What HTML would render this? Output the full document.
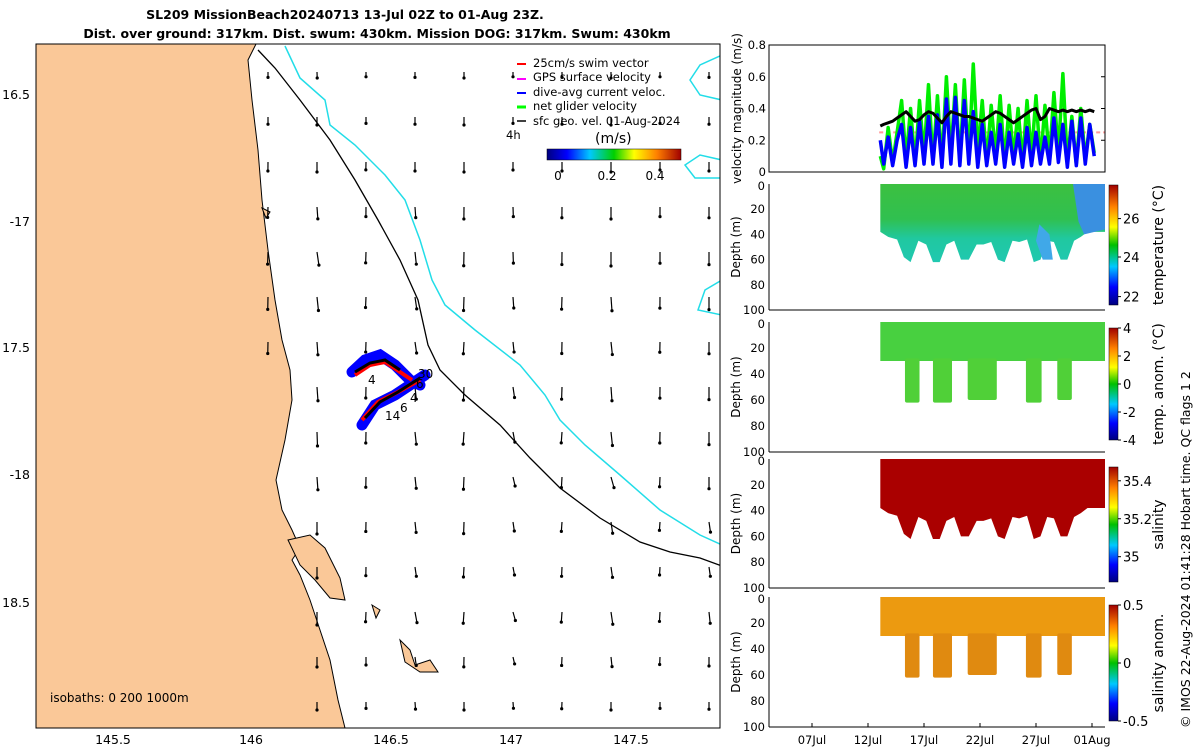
<!DOCTYPE html>
<html><head><meta charset="utf-8"><style>
html,body{margin:0;padding:0;background:#fff;}
svg{display:block;font-family:"DejaVu Sans","Liberation Sans",sans-serif;}
</style></head><body>
<svg id="root" width="1200" height="750" viewBox="0 0 1200 750" xmlns="http://www.w3.org/2000/svg">
<defs>
<linearGradient id="jetH" x1="0" x2="1" y1="0" y2="0">
<stop offset="0" stop-color="#00007f"/><stop offset="0.15" stop-color="#0000ff"/><stop offset="0.32" stop-color="#00c8ff"/><stop offset="0.5" stop-color="#00d000"/><stop offset="0.65" stop-color="#ffff00"/><stop offset="0.82" stop-color="#ff8000"/><stop offset="1" stop-color="#a00000"/></linearGradient>
<linearGradient id="jetV" x1="0" x2="0" y1="1" y2="0">
<stop offset="0" stop-color="#00007f"/><stop offset="0.15" stop-color="#0000ff"/><stop offset="0.32" stop-color="#00c8ff"/><stop offset="0.5" stop-color="#00c000"/><stop offset="0.65" stop-color="#ffff00"/><stop offset="0.82" stop-color="#ff8000"/><stop offset="1" stop-color="#a00000"/></linearGradient>
<linearGradient id="tempG" x1="0" x2="0" y1="0" y2="1">
<stop offset="0" stop-color="#3cc040"/><stop offset="0.45" stop-color="#30c050"/><stop offset="0.7" stop-color="#20c8a0"/><stop offset="1" stop-color="#20c8b0"/></linearGradient>
</defs>
<g font-weight="bold" font-size="12.5" text-anchor="middle">
<text x="345" y="19">SL209 MissionBeach20240713 13-Jul 02Z to 01-Aug 23Z.</text>
<text x="377" y="38">Dist. over ground: 317km. Dist. swum: 430km. Mission DOG: 317km. Swum: 430km</text>
</g>
<g>
<clipPath id="mapclip"><rect x="36" y="44" width="684" height="684"/></clipPath>
<g clip-path="url(#mapclip)">
<path fill="#fac898" stroke="#000" stroke-width="1" d="M36,44 L256,44 L248,60 L252,100 L258,150 L262,200 L268,250 L275,300 L282,340 L290,370 L292,400 L285,440 L276,480 L282,510 L292,530 L300,548 L292,560 L300,575 L310,600 L320,630 L330,660 L338,700 L345,728 L36,728 Z"/>
<path fill="#fac898" stroke="#000" d="M288,540 L310,535 L325,548 L340,578 L345,600 L330,598 L315,580 L300,565 Z"/>
<path fill="#fac898" stroke="#000" d="M400,640 L410,650 L415,665 L430,660 L438,672 L420,672 L405,662 Z M372,605 L380,610 L376,618 Z M262,208 L270,212 L266,218 Z"/>
<path fill="none" stroke="#000" stroke-width="1.3" d="M258,50 L275,68 L300,100 L330,140 L355,180 L378,220 L400,260 L418,300 L428,345 L440,370 L465,395 L500,425 L530,458 L560,488 L600,518 L640,542 L670,552 L700,558 L722,566"/>
<path fill="none" stroke="#22dde8" stroke-width="1.5" d="M285,46 L300,78 L325,100 L330,125 L355,145 L385,175 L405,200 L420,240 L432,280 L445,305 L475,330 L520,365 L545,395 L560,420 L585,445 L620,475 L660,510 L700,535 L722,545 M722,55 L700,65 L690,80 L700,95 L722,100 M722,160 L700,155 L685,165 L695,178 L722,178 M722,280 L705,290 L698,310 L722,315"/>
<g id="arrows"></g>
<g>
<path d="M352,372 L365,360 L380,355 L395,365 L410,380 L420,385 M362,425 L375,405 L395,395 L410,385 L425,375" stroke="#0000ff" stroke-width="11" fill="none" stroke-linecap="round"/>
<path d="M355,375 L370,365 L385,362 L400,372 L412,380 M362,420 L378,402 L398,392 L420,380" stroke="#ff0000" stroke-width="4" fill="none"/>
<path d="M355,372 L370,363 L385,360 L400,370 M365,418 L380,402 L398,392 L420,378" stroke="#000" stroke-width="3" fill="none"/>
<g font-size="12"><text x="418" y="378">30</text><text x="410" y="402">4</text><text x="400" y="412">6</text><text x="368" y="384">4</text><text x="385" y="420">14</text><text x="416" y="388">6</text></g>
</g>
</g>
<rect x="36" y="44" width="684" height="684" fill="none" stroke="#000" stroke-width="1"/>
<g font-size="11.5">
<line x1="517" y1="64" x2="526" y2="64" stroke="#f00" stroke-width="2"/><text x="533" y="67">25cm/s swim vector</text>
<line x1="517" y1="79" x2="526" y2="79" stroke="#f0f" stroke-width="2"/><text x="533" y="81">GPS surface velocity</text>
<line x1="517" y1="93" x2="526" y2="93" stroke="#00f" stroke-width="2"/><text x="533" y="96">dive-avg current veloc.</text>
<line x1="517" y1="107" x2="526" y2="107" stroke="#0f0" stroke-width="3"/><text x="533" y="110">net glider velocity</text>
<line x1="517" y1="121" x2="526" y2="121" stroke="#000" stroke-width="1.5"/><text x="533" y="125">sfc geo. vel. 01-Aug-2024</text>
<text x="506" y="139">4h</text>
<text x="595" y="143" font-size="14">(m/s)</text>
<rect x="547" y="149" width="134" height="11" fill="url(#jetH)" stroke="#000" stroke-width="0.5"/>
<text x="558" y="180" text-anchor="middle" font-size="12">0</text>
<text x="607" y="180" text-anchor="middle" font-size="12">0.2</text>
<text x="655" y="180" text-anchor="middle" font-size="12">0.4</text>
</g>
<text x="50" y="702" font-size="12">isobaths: 0   200  1000m</text>
<g font-size="12.5" text-anchor="middle">
<text x="113" y="744">145.5</text><text x="251" y="744">146</text><text x="391" y="744">146.5</text><text x="511" y="744">147</text><text x="631" y="744">147.5</text>
</g>
<g font-size="12.5" text-anchor="end">
<text x="30" y="99">16.5</text><text x="30" y="226">-17</text><text x="30" y="352">17.5</text><text x="30" y="479">-18</text><text x="30" y="607">18.5</text>
</g>
</g>
<g id="right" font-size="12"></g>
<text font-size="12.5" transform="translate(1190,728) rotate(-90)">© IMOS 22-Aug-2024 01:41:28 Hobart time. QC flags 1  2</text>
</svg>
<script>
// ---- data ----
const arrowDir = [
[10,0,5,0,0,5,0,0,0,0,0,0,0,0],
[0,10,0,5,0,0,0,0,0,0,0,0,0,0],
[0,0,10,0,5,0,10,0,0,0,0,0,0,0],
[0,0,0,10,15,10,5,10,5,5,5,0,0,0],
[0,0,0,10,15,20,15,15,10,5,5,0,0,0],
[0,0,0,5,10,15,20,20,15,10,15,10,5,0],
[0,0,0,0,10,10,15,20,25,15,10,15,10,0],
[0,0,0,0,5,10,10,15,20,20,15,10,5,0],
[0,0,0,0,0,5,10,15,30,25,30,15,10,0],
[0,0,0,0,0,10,10,15,20,30,25,35,20,0],
[0,0,0,0,0,0,10,15,15,20,30,20,30,20],
[0,0,0,0,0,0,10,20,25,25,20,20,25,20],
[0,0,0,0,0,0,20,25,30,35,30,20,25,15],
[0,0,0,0,0,0,0,20,10,30,20,15,20,0],
[0,0,0,0,0,0,0,10,0,10,20,0,0,0]];
const arrowLen = [6,8,10,12,14,14,13,14,14,13,12,11,13,10,8];
const velTimes = [13.1,13.4,13.8,14.2,14.6,15.0,15.4,15.8,16.2,16.6,17.0,17.4,17.8,18.2,18.6,19.0,19.4,19.8,20.2,20.6,21.0,21.4,21.8,22.2,22.6,23.0,23.4,23.8,24.2,24.6,25.0,25.4,25.8,26.2,26.6,27.0,27.4,27.8,28.2,28.6,29.0,29.4,29.8,30.2,30.6,31.0,31.4,31.8,32.2];
const netVel = [0.10,0.02,0.28,0.06,0.25,0.45,0.08,0.40,0.05,0.45,0.10,0.55,0.06,0.48,0.05,0.60,0.10,0.55,0.06,0.58,0.08,0.68,0.12,0.45,0.06,0.42,0.10,0.48,0.05,0.42,0.08,0.40,0.06,0.45,0.10,0.48,0.06,0.42,0.08,0.50,0.12,0.62,0.06,0.35,0.05,0.40,0.08,0.30,0.12];
const daVel = [0.20,0.05,0.22,0.04,0.20,0.30,0.03,0.28,0.04,0.32,0.05,0.35,0.05,0.36,0.03,0.46,0.05,0.47,0.04,0.45,0.05,0.38,0.03,0.30,0.04,0.25,0.05,0.30,0.03,0.25,0.05,0.24,0.03,0.28,0.04,0.25,0.05,0.22,0.05,0.34,0.06,0.30,0.03,0.32,0.04,0.34,0.05,0.30,0.10];
const geoVel = [0.29,0.30,0.31,0.32,0.34,0.36,0.38,0.35,0.32,0.33,0.36,0.38,0.37,0.34,0.31,0.35,0.38,0.37,0.36,0.35,0.35,0.34,0.33,0.32,0.34,0.36,0.38,0.37,0.35,0.33,0.31,0.33,0.35,0.37,0.39,0.40,0.33,0.35,0.40,0.39,0.38,0.39,0.38,0.39,0.38,0.39,0.38,0.39,0.38];
const profTimes = [13.1,13.8,14.6,15.2,15.8,16.5,17.2,17.8,18.4,19.0,19.7,20.3,21.0,21.7,22.3,23.0,23.6,24.2,24.9,25.5,26.2,26.8,27.4,28.0,28.6,29.2,29.8,30.4,31.0,31.6,32.2];
const profDepth = [38,42,44,58,62,45,48,62,62,48,45,60,60,48,48,46,60,62,45,46,44,62,60,45,46,60,60,45,42,38,38];
const deepStart = [15.3,17.8,20.9,26.1,28.9];
const deepEnd = [16.6,19.5,23.5,27.5,30.2];
const deepDepth = [62,62,60,62,60];
const timeTicks = [7,12,17,22,27,32];
const timeTickLabels = ['07Jul','12Jul','17Jul','22Jul','27Jul','01Aug'];
const velTicks = [0,0.2,0.4,0.6,0.8];
const depthTicks = [0,20,40,60,80,100];
// ---- helpers ----
const NS='http://www.w3.org/2000/svg';
function mk(tag,attrs,parent){const e=document.createElementNS(NS,tag);for(const k in attrs)e.setAttribute(k,attrs[k]);parent.appendChild(e);return e;}
const X0=769,X1=1105;
const tx = d => 868 + (d-12)*11.2;
const ag=document.getElementById('arrows');
arrowDir.forEach((row,r)=>{row.forEach((deg,c)=>{
 const x=72+c*49, y=72+r*45;
 if(x<250+r*3) return;
 const L=arrowLen[r]*(0.8+(c%3)*0.1), a=deg*Math.PI/180;
 const x2=x+Math.sin(a)*L*0.4*(c%2?1:-0.3), y2=y+Math.cos(a)*L;
 const ln=mk('line',{x1:x,y1:y,x2:x2,y2:y2,stroke:'#000','stroke-width':1.2},ag);
 
 
 const hd=mk('circle',{cx:x2,cy:y2,r:1.6,fill:'#000'},ag);
 
 
});});
const R=document.getElementById('right');
(function(){
 const top=45,bot=172, vy=v=>bot-v/0.8*(bot-top);
 const g=mk('g',{},R);
 
 
 mk('line',{x1:tx(13),x2:X1,y1:vy(0.25),y2:vy(0.25),stroke:'#f99','stroke-width':2,'stroke-dasharray':'4 3'},g);
 const line=(arr,col,w)=>mk('polyline',{points:velTimes.map((t,i)=>tx(t)+','+vy(arr[i])).join(' '),fill:'none',stroke:col,'stroke-width':w,'stroke-linejoin':'round'},g);
 const a=line(netVel,'#00ee00',3.5);  
 const b=line(daVel,'#0000ff',3.5);  
 const c=line(geoVel,'#000',3);  
 mk('rect',{x:X0,y:top,width:X1-X0,height:bot-top,fill:'none',stroke:'#000'},g);
 velTicks.forEach(v=>{const t=mk('text',{x:X0-3,y:vy(v)+4,'text-anchor':'end','font-size':11.5},g);t.textContent=v;
  mk('line',{x1:X1-4,x2:X1,y1:vy(v),y2:vy(v),stroke:'#000'},g);});
 const lab=mk('text',{transform:`translate(741,${(top+bot)/2}) rotate(-90)`,'text-anchor':'middle','font-size':12},g);
 lab.textContent='velocity magnitude (m/s)';
})();
const panels=[
 {name:'temperature',top:184,bot:310,fill:['url(#tempG)'],cb:['26','24','22'],cbPos:[0.28,0.6,0.93],cbTop:185,cbBot:305,label:'temperature (°C)',cols:false},
 {name:'temp-anomaly',top:322,bot:452,fill:['#48d040','#50d038'],cb:['4','2','0','-2','-4'],cbPos:[0,0.25,0.5,0.75,1],cbTop:328,cbBot:440,label:'temp. anom. (°C)',cols:true},
 {name:'salinity',top:459,bot:588,fill:['#aa0000'],cb:['35.4','35.2','35'],cbPos:[0.12,0.45,0.78],cbTop:467,cbBot:582,label:'salinity',cols:false},
 {name:'salinity-anomaly',top:597,bot:727,fill:['#ec9a10','#e08a10'],cb:['0.5','0','-0.5'],cbPos:[0,0.5,1],cbTop:605,cbBot:721,label:'salinity anom.',cols:true}];
panels.forEach(P=>{
 const g=mk('g',{},R);
 
 
 const dy=d=>P.top+0+d/100*(P.bot-P.top);
 if(!P.cols){
  const pts=[tx(profTimes[0])+','+dy(0)];
  profTimes.forEach((t,i)=>pts.push(tx(t)+','+dy(profDepth[i])));
  pts.push(X1+','+dy(profDepth[profDepth.length-1]),X1+','+dy(0));
  const poly=mk('polygon',{points:pts.join(' '),fill:P.fill[0]},g);
  
  
 } else {
  const r=mk('rect',{x:tx(profTimes[0]),y:dy(0),width:X1-tx(profTimes[0]),height:dy(30)-dy(0),fill:P.fill[0]},g);
  
  
  deepStart.forEach((s,k)=>{
   const c=mk('rect',{x:tx(s),y:dy(28),width:tx(deepEnd[k])-tx(s),height:dy(deepDepth[k])-dy(28),fill:P.fill[1],rx:2},g);
   
   });
 }
 if(P.name==='temperature'){
  const b1=mk('polygon',{points:`${tx(30.3)},${dy(0)} ${X1},${dy(0)} ${X1},${dy(36)} ${tx(31.3)},${dy(40)} ${tx(30.8)},${dy(30)}`,fill:'#3a90e0'},g);
  
  
  const b2=mk('polygon',{points:`${tx(27.3)},${dy(32)} ${tx(28.2)},${dy(40)} ${tx(28.5)},${dy(60)} ${tx(27.6)},${dy(60)} ${tx(27.0)},${dy(45)}`,fill:'#40a8e8'},g);
  
  
 }
 mk('line',{x1:X0,x2:X1,y1:P.bot,y2:P.bot,stroke:'#000'},g);
 mk('line',{x1:X0,x2:X0,y1:P.top,y2:P.bot,stroke:'#000'},g);
 depthTicks.forEach(d=>{const t=mk('text',{x:X0-4,y:Math.max(dy(d)+4,P.top+6),'text-anchor':'end','font-size':11.5},g);t.textContent=d;});
 const lab=mk('text',{transform:`translate(740,${(P.top+P.bot)/2}) rotate(-90)`,'text-anchor':'middle','font-size':12},g);
 lab.textContent='Depth (m)';
 const cb=mk('rect',{x:1109,y:P.cbTop,width:9,height:P.cbBot-P.cbTop,fill:'url(#jetV)',stroke:'#000','stroke-width':0.5},g);
 
 
 P.cb.forEach((s,i)=>{const y=P.cbTop+P.cbPos[i]*(P.cbBot-P.cbTop);
  mk('line',{x1:1118,x2:1121,y1:y,y2:y,stroke:'#000'},g);
  const t=mk('text',{x:1123,y:y+5,'font-size':13},g);t.textContent=s;});
 const cl=mk('text',{transform:`translate(1163,${(P.cbTop+P.cbBot)/2}) rotate(-90)`,'text-anchor':'middle','font-size':14},g);
 cl.textContent=P.label;
});
const ta=mk('g',{},R);


timeTicks.forEach((d,i)=>{mk('line',{x1:tx(d),x2:tx(d),y1:723,y2:727,stroke:'#000'},ta);
 const t=mk('text',{x:tx(d),y:744,'text-anchor':'middle','font-size':11.5},ta);t.textContent=timeTickLabels[i];});
</script>
</body></html>
